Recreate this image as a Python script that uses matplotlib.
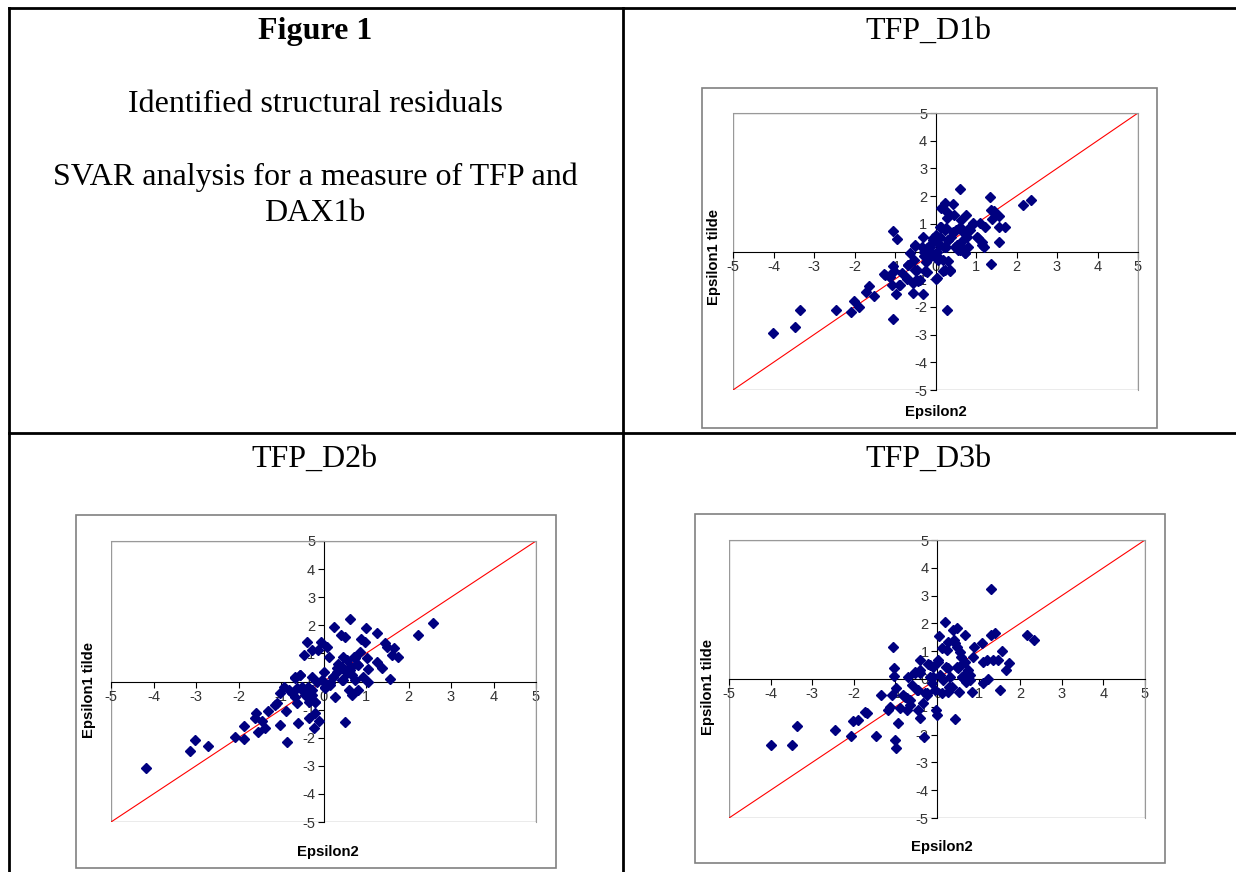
import matplotlib.pyplot as plt
from matplotlib.patches import Rectangle

plt.rcParams['axes.unicode_minus'] = False

# Data (Epsilon2, Epsilon1 tilde)
d1b_x = [-4.01, -3.46, -3.34, -2.46, -2.08, -2.02, -1.90, -1.71, -1.63, -1.51, -1.28, -1.16,
         -1.05, -1.06, -0.95, -1.05, -1.03, -1.07, -0.97, -0.89, -0.83, -0.70, -0.69, -0.62,
         -0.56, -0.54, -0.50, -0.50, -0.47, -0.42, -0.31, -0.31, -0.29, -0.28, -0.23, -0.25,
         -0.21, -0.13, -0.09, -0.05, 0.00, 0.02, 0.04, 0.08, 0.10, 0.12, 0.14, 0.19, 0.20,
         0.24, 0.27, 0.28, 0.28, 0.30, 0.32, 0.28, 0.37, 0.39, 0.43, 0.45, 0.47, 0.51, 0.55,
         0.60, 0.61, 0.64, 0.65, 0.70, 0.74, 0.76, 0.78, 0.80, 0.86, 0.93, 1.02, 1.09, 1.15,
         1.19, 1.23, 1.35, 1.37, 1.40, 1.37, 1.44, 1.56, 1.56, 1.57, 1.72, 2.15, 2.36,
         -0.50, -0.34, -0.20, -0.13, -0.05, 0.11, 0.13, 0.23, 0.27, 0.31, 0.44, 0.52, 0.60,
         0.69, 0.77, 0.90, 1.06, 1.16, 0.73, 0.36, 0.24, 0.03, -0.22, -0.38, -0.71, -0.88,
         -1.25, -1.12, -0.56, -0.46, -0.67, 0.03, -0.05, -0.13, 0.07, 0.19]
d1b_y = [-2.95, -2.71, -2.11, -2.11, -2.20, -1.78, -1.99, -1.48, -1.24, -1.60, -0.81, -0.90,
         -2.45, 0.75, 0.45, -0.51, -0.72, -1.20, -1.53, -1.20, -0.78, -1.00, -0.48, -0.04,
         -1.51, -0.30, 0.22, -0.66, -1.02, -1.08, -1.53, 0.54, -0.18, 0.00, -0.39, -0.72,
         0.12, 0.18, -0.06, 0.42, 0.60, -1.00, 0.00, -0.24, 0.24, 0.90, 1.57, -0.69, 0.18,
         1.75, 0.84, 1.41, 1.20, -0.36, 0.42, -2.11, -0.70, 0.54, 1.72, 1.33, 0.18, 0.78, 0.06,
         2.25, 0.90, 1.14, 0.18, 0.66, -0.06, 1.33, 0.54, 0.18, 0.78, 1.02, 0.51, 1.02, 0.36,
         0.18, 0.88, 1.95, 1.51, 1.17, -0.45, 1.45, 1.27, 0.90, 0.36, 0.88, 1.69, 1.87,
         0.20, 0.17, 0.05, 0.23, -0.13, 0.54, 0.90, 0.78, 0.17, 0.42, 0.72, 0.23, 0.05,
         0.42, 0.78, 0.96, 0.48, 0.23, -0.07, -0.67, -0.67, -0.97, -0.73, -1.03, -0.97, -1.20,
         -0.85, -0.91, -1.15, -0.67, -0.49, 0.36, 0.48, -0.19, -0.31, -0.31]

d2b_x = [-4.17, -3.15, -3.03, -2.72, -2.09, -1.88, -1.86, -1.60, -1.62, -1.54, -1.45, -1.38,
         -1.30, -1.13, -1.09, -1.02, -1.02, -0.88, -0.87, -0.94, -0.82, -0.74, -0.68, -0.66,
         -0.62, -0.60, -0.55, -0.51, -0.47, -0.44, -0.39, -0.35, -0.35, -0.27, -0.27, -0.26,
         -0.23, -0.19, -0.21, -0.13, -0.11, -0.07, -0.04, 0.00, 0.03, 0.08, 0.12, 0.16, 0.22,
         0.24, 0.28, 0.32, 0.34, 0.40, 0.44, 0.47, 0.50, 0.50, 0.55, 0.59, 0.63, 0.65, 0.67,
         0.71, 0.75, 0.79, 0.81, 0.87, 0.89, 0.92, 0.97, 1.00, 1.02, 1.05, 1.05, 1.26, 1.26,
         1.38, 1.45, 1.49, 1.57, 1.61, 1.65, 1.75, 2.22, 2.57,
         -0.67, -0.55, -0.63, -0.47, -0.36, -0.28, -0.20, -0.16, 0.04, 0.15, 0.23, 0.31, 0.43,
         0.55, 0.62, 0.74, 0.82, 0.55, 0.66, 0.47]
d2b_y = [-3.08, -2.46, -2.08, -2.31, -1.99, -2.03, -1.60, -1.11, -1.31, -1.78, -1.40, -1.66,
         -1.05, -0.83, -0.75, -0.40, -1.54, -1.05, -2.16, -0.18, -0.30, -0.40, 0.11, -0.54,
         -0.78, -1.49, 0.23, -0.18, 0.96, -0.48, 1.39, -0.72, -1.31, 1.12, 0.17, -0.30,
         -1.66, -1.13, -0.72, 1.12, -1.40, 1.42, 0.05, 0.35, -0.18, 1.24, 0.88, -0.07, 0.17,
         1.95, -0.54, 0.47, 0.64, 1.65, 0.05, 0.88, 1.59, -1.45, 0.41, -0.30, 2.24, 0.53, -0.48,
         0.88, 0.05, 0.64, -0.30, 1.06, 1.53, 0.17, 1.42, 1.89, 0.82, 0.43, 0.00, 1.73, 0.70,
         0.47, 1.38, 1.24, 0.08, 0.94, 1.18, 0.88, 1.65, 2.07,
         0.17, 0.23, -0.24, -0.36, -0.18, -0.48, -0.72, 0.00, -0.24, -0.12, 0.17, 0.35, 0.53,
         0.76, 0.41, 0.82, 0.59, 0.29, 0.23, 0.05]

d3b_x = [-4.00, -3.48, -3.36, -2.44, -2.06, -2.02, -1.91, -1.74, -1.68, -1.46, -1.35, -1.18,
         -1.14, -1.05, -1.04, -1.03, -1.07, -0.99, -1.01, -0.99, -0.93, -0.88, -0.81, -0.73,
         -0.73, -0.69, -0.65, -0.61, -0.53, -0.49, -0.45, -0.41, -0.41, -0.40, -0.33, -0.32,
         -0.29, -0.24, -0.21, -0.17, -0.13, -0.09, -0.05, -0.03, 0.00, 0.03, 0.05, 0.07, 0.11,
         0.13, 0.19, 0.21, 0.24, 0.27, 0.29, 0.31, 0.39, 0.41, 0.43, 0.47, 0.47, 0.48, 0.53,
         0.57, 0.59, 0.63, 0.67, 0.69, 0.75, 0.79, 0.83, 0.87, 0.89, 1.09, 1.11, 1.11, 1.19,
         1.23, 1.29, 1.31, 1.35, 1.39, 1.47, 1.51, 1.57, 1.66, 1.74, 2.17, 2.34,
         -0.53, -0.41, -0.17, -0.09, 0.03, 0.15, 0.27, 0.35, 0.51, 0.59, 0.71, 0.79, 0.55,
         0.43, 0.67, -0.65, -0.77, -0.45, -0.25, 0.27]
d3b_y = [-2.38, -2.38, -1.70, -1.84, -2.05, -1.52, -1.46, -1.18, -1.22, -2.05, -0.56, -1.10,
         -1.00, 1.16, 0.40, 0.11, -0.56, -0.34, -2.18, -2.47, -1.60, -1.04, -0.58, -0.70,
         -1.12, 0.08, -0.94, -0.22, 0.20, -0.40, -1.12, -1.42, 0.70, 0.20, -0.88, -2.08,
         -0.52, -0.58, 0.53, 0.08, -0.16, 0.44, -0.40, -1.12, -1.30, 0.68, 1.54, 0.14, 1.12,
         -0.50, 2.06, 0.44, 1.04, 1.34, -0.28, 0.08, 1.76, 1.40, -1.43, 1.82, 0.44, 1.16, -0.46,
         0.80, 0.08, 0.56, 1.58, -0.10, 0.34, 0.14, -0.46, 0.80, 1.16, 1.28, 0.62, -0.14, 0.70,
         0.00, 3.24, 1.58, 0.68, 1.64, 0.68, -0.38, 1.01, 0.32, 0.58, 1.58, 1.42,
         0.26, 0.32, 0.50, 0.08, 0.62, -0.04, 0.38, -0.28, 0.38, 0.08, 0.26, -0.04, 0.98,
         1.28, 0.62, -0.76, -0.64, -0.40, -0.52, -0.46]

diag = [-5, 5]
ticks = [-5, -4, -3, -2, -1, 0, 1, 2, 3, 4, 5]

W, H = 1236, 872
fig = plt.figure(figsize=(W / 100, H / 100), dpi=100)

# table background
bg = fig.add_axes([0, 0, 1, 1])
bg.set_xlim(0, W)
bg.set_ylim(H, 0)
bg.axis('off')
bg.plot([8.5, 8.5], [873, 8.5], color='black', lw=2)
bg.plot([8.5, 1240], [8.5, 8.5], color='black', lw=2)
bg.plot([623, 623], [8.5, 873], color='black', lw=2)
bg.plot([8.5, 1240], [433, 433], color='black', lw=2)

serif = 'Liberation Serif'
fs = 23
bg.text(315, 31, 'Figure 1', fontsize=fs, fontweight='bold', family=serif, ha='center', va='center')
bg.text(315, 104, 'Identified structural residuals', fontsize=fs, family=serif, ha='center', va='center')
bg.text(315, 177, 'SVAR analysis for a measure of TFP and', fontsize=fs, family=serif, ha='center', va='center')
bg.text(315, 213, 'DAX1b', fontsize=fs, family=serif, ha='center', va='center')
bg.text(928, 31, 'TFP_D1b', fontsize=fs, family=serif, ha='center', va='center')
bg.text(315, 459, 'TFP_D2b', fontsize=fs, family=serif, ha='center', va='center')
bg.text(928, 459, 'TFP_D3b', fontsize=fs, family=serif, ha='center', va='center')


def scatter_panel(frame, area, xs, ys, xlab_pos, ylab_pos):
    fx0, fy0, fx1, fy1 = frame
    bg.add_patch(Rectangle((fx0, fy0), fx1 - fx0, fy1 - fy0, fill=False,
                           edgecolor='#808080', lw=1.2))
    x0, y0, x1, y1 = area
    ax = fig.add_axes([x0 / W, 1 - y1 / H, (x1 - x0) / W, (y1 - y0) / H])
    ax.set_xlim(-5, 5)
    ax.set_ylim(-5, 5)
    ax.patch.set_alpha(0)
    for side in ['top', 'right']:
        ax.spines[side].set_color('#999999')
    ax.add_patch(Rectangle((0, 0), 1, 1, transform=ax.transAxes, fill=False,
                           edgecolor='#999999', lw=1, zorder=0))
    ax.spines['left'].set_position(('data', 0))
    ax.spines['bottom'].set_position(('data', 0))
    ax.spines['left'].set_color('black')
    ax.spines['bottom'].set_color('black')
    ax.set_xticks(ticks)
    ax.set_yticks(ticks)
    ax.tick_params(direction='out', length=4, width=0.8, labelsize=10.5,
                   labelcolor='#333333', pad=2)
    for lab in ax.get_xticklabels() + ax.get_yticklabels():
        lab.set_family('Liberation Sans')
    ax.plot(diag, diag, color='#ff0000', lw=0.8, zorder=2)
    ax.plot(xs, ys, linestyle='none', marker='D', ms=5, color='#000080', zorder=3,
            clip_on=False)
    bg.text(xlab_pos[0], xlab_pos[1], 'Epsilon2', fontsize=10.7, fontweight='bold',
            family='Liberation Sans', ha='center', va='center')
    bg.text(ylab_pos[0], ylab_pos[1], 'Epsilon1 tilde', fontsize=10.7, fontweight='bold',
            family='Liberation Sans', ha='center', va='center', rotation=90)


scatter_panel((702, 88, 1157, 428), (733, 113, 1138, 390), d1b_x, d1b_y, (936, 412), (714, 257))
scatter_panel((76, 515, 556, 868), (111, 541, 536, 822), d2b_x, d2b_y, (328, 852), (89, 690))
scatter_panel((695, 514, 1165, 863), (729, 540, 1145, 818), d3b_x, d3b_y, (942, 847), (708, 687))

plt.savefig('out.png', dpi=100)
